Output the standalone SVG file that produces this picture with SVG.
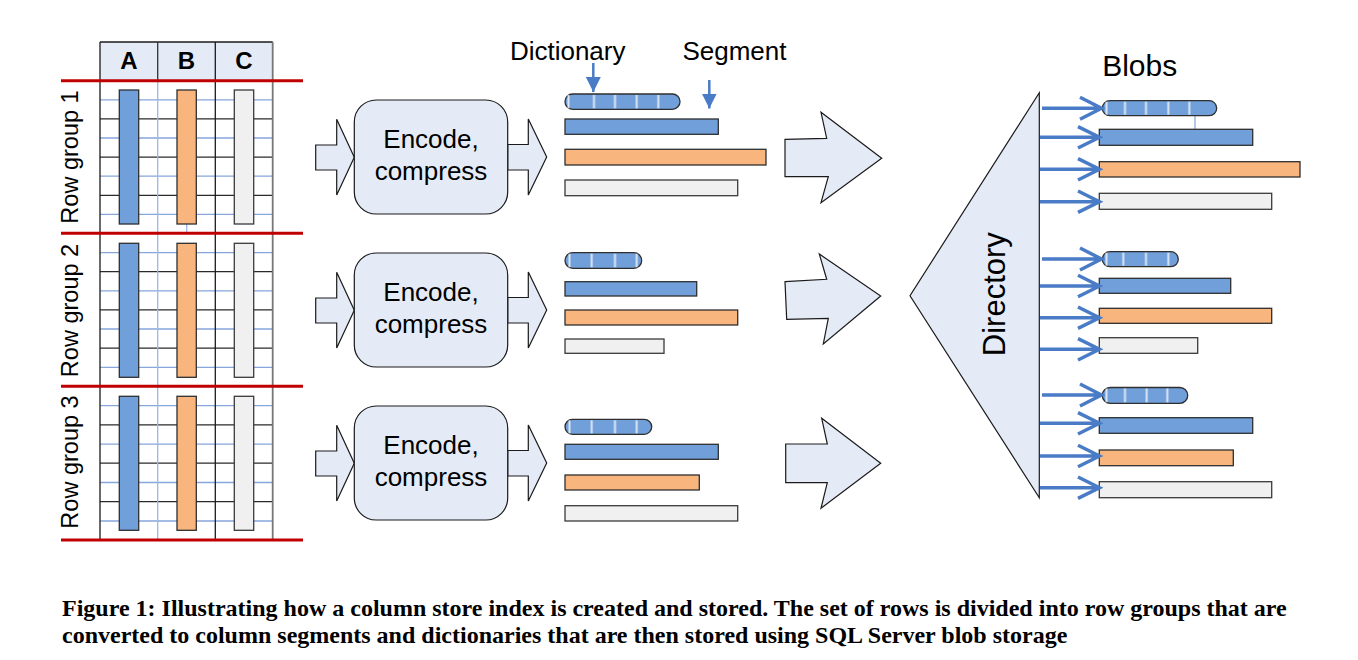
<svg xmlns="http://www.w3.org/2000/svg" width="1358" height="660" viewBox="0 0 1358 660">
<defs>
<linearGradient id="stripe" x1="0" y1="0" x2="1" y2="0">
<stop offset="0" stop-color="#ffffff" stop-opacity="0"/>
<stop offset="0.5" stop-color="#ffffff" stop-opacity="0.75"/>
<stop offset="1" stop-color="#ffffff" stop-opacity="0"/>
</linearGradient>
<marker id="tri" viewBox="0 0 10 10" refX="10" refY="5" markerWidth="15" markerHeight="17" markerUnits="userSpaceOnUse" orient="auto">
<path d="M0,0 L10,5 L0,10 Z" fill="#4a7bc6"/>
</marker>
</defs>
<style>
text{font-family:"Liberation Sans",Arial,sans-serif;fill:#000}
.hdr{font-size:24px;font-weight:bold;text-anchor:middle}
.rg{font-size:23.5px;text-anchor:middle}
.enc{font-size:26px;text-anchor:middle}
.lbl{font-size:26px;text-anchor:middle}
.cap{font-family:"Liberation Serif","Times New Roman",serif;font-size:24px;font-weight:bold}
.blue{fill:#719fd9;stroke:#2f2f2f;stroke-width:1.3}
.orng{fill:#f8b57e;stroke:#2f2f2f;stroke-width:1.3}
.gray{fill:#f0f0f0;stroke:#3a3a3a;stroke-width:1.3}
.pale{fill:#e4ebf6;stroke:#1a1a1a;stroke-width:1.2}
.red{stroke:#c00000;stroke-width:3}
.gb{stroke:#86a6dc;stroke-width:1.3}
.gk{stroke:#2a2a2a;stroke-width:1.2}
.bl{stroke:#4a7bc6;stroke-width:3.5;fill:none}
.ptr{stroke:#4a7bc6;stroke-width:2.5;fill:none}
.st{fill:url(#stripe)}
</style>
<rect width="1358" height="660" fill="#ffffff"/>

<g id="table">
<rect x="100" y="42" width="172.7" height="38.7" fill="#e4ebf6"/>
<g id="gridlines">
<line class="gb" x1="100" y1="99.8" x2="272.7" y2="99.8"/>
<line class="gk" x1="100" y1="118.9" x2="272.7" y2="118.9"/>
<line class="gb" x1="100" y1="138" x2="272.7" y2="138"/>
<line class="gk" x1="100" y1="157.1" x2="272.7" y2="157.1"/>
<line class="gb" x1="100" y1="176.2" x2="272.7" y2="176.2"/>
<line class="gk" x1="100" y1="195.3" x2="272.7" y2="195.3"/>
<line class="gb" x1="100" y1="214.4" x2="272.7" y2="214.4"/>
<line class="gb" x1="100" y1="252.6" x2="272.7" y2="252.6"/>
<line class="gk" x1="100" y1="271.7" x2="272.7" y2="271.7"/>
<line class="gb" x1="100" y1="290.8" x2="272.7" y2="290.8"/>
<line class="gk" x1="100" y1="309.9" x2="272.7" y2="309.9"/>
<line class="gb" x1="100" y1="329" x2="272.7" y2="329"/>
<line class="gk" x1="100" y1="348.1" x2="272.7" y2="348.1"/>
<line class="gb" x1="100" y1="367.3" x2="272.7" y2="367.3"/>
<line class="gb" x1="100" y1="405.7" x2="272.7" y2="405.7"/>
<line class="gk" x1="100" y1="424.9" x2="272.7" y2="424.9"/>
<line class="gb" x1="100" y1="444.1" x2="272.7" y2="444.1"/>
<line class="gk" x1="100" y1="463.2" x2="272.7" y2="463.2"/>
<line class="gb" x1="100" y1="482.5" x2="272.7" y2="482.5"/>
<line class="gk" x1="100" y1="501.7" x2="272.7" y2="501.7"/>
<line class="gb" x1="100" y1="521" x2="272.7" y2="521"/>
</g>
<line x1="100" y1="42" x2="272.7" y2="42" stroke="#1a1a1a" stroke-width="1.3"/>
<line x1="100" y1="42" x2="100" y2="540" stroke="#1a1a1a" stroke-width="1.3"/>
<line x1="157.7" y1="42" x2="157.7" y2="80.7" stroke="#333" stroke-width="1.3"/>
<line x1="157.7" y1="80.7" x2="157.7" y2="540" stroke="#9db8e3" stroke-width="1.3"/>
<line x1="215.3" y1="42" x2="215.3" y2="540" stroke="#1a1a1a" stroke-width="1.3"/>
<line x1="272.7" y1="42" x2="272.7" y2="540" stroke="#777" stroke-width="1.8"/>
<line x1="186.7" y1="224" x2="186.7" y2="233" stroke="#9db8e3" stroke-width="1.3"/>
<text class="hdr" x="128.8" y="69.3">A</text>
<text class="hdr" x="186.5" y="69.3">B</text>
<text class="hdr" x="244" y="69.3">C</text>
</g>

<g id="rowgroup1">
<rect class="blue" x="119.3" y="90" width="19.4" height="134"/>
<rect class="orng" x="177" y="90" width="19.3" height="134"/>
<rect class="gray" x="234.3" y="90" width="19.4" height="134"/>
<text class="rg" transform="translate(78.3,157) rotate(-90)">Row group 1</text>
</g>
<g id="rowgroup2">
<rect class="blue" x="119.3" y="243.3" width="19.4" height="134"/>
<rect class="orng" x="177" y="243.3" width="19.3" height="134"/>
<rect class="gray" x="234.3" y="243.3" width="19.4" height="134"/>
<text class="rg" transform="translate(78.3,310.5) rotate(-90)">Row group 2</text>
</g>
<g id="rowgroup3">
<rect class="blue" x="119.3" y="396.3" width="19.4" height="134"/>
<rect class="orng" x="177" y="396.3" width="19.3" height="134"/>
<rect class="gray" x="234.3" y="396.3" width="19.4" height="134"/>
<text class="rg" transform="translate(78.3,462) rotate(-90)">Row group 3</text>
</g>
<g id="redlines">
<line class="red" x1="61" y1="80.7" x2="303" y2="80.7"/>
<line class="red" x1="61" y1="233.3" x2="303" y2="233.3"/>
<line class="red" x1="61" y1="386.3" x2="303" y2="386.3"/>
<line class="red" x1="61" y1="540" x2="303" y2="540"/>
</g>

<g id="connectors">
<g id="enc-arrows">
<polygon class="pale" points="315.7,145 336.7,145 336.7,119.3 354.3,157.3 336.7,195 336.7,170 315.7,170"/>
<polygon class="pale" points="507.7,144.5 528.3,144.5 528.3,119 546.7,157 528.3,195 528.3,170 507.7,170"/>
<polygon class="pale" points="315.7,298 336.7,298 336.7,272.3 354.3,310.3 336.7,348 336.7,323 315.7,323"/>
<polygon class="pale" points="507.7,297.5 528.3,297.5 528.3,272 546.7,310 528.3,348 528.3,323 507.7,323"/>
<polygon class="pale" points="315.7,451 336.7,451 336.7,425.3 354.3,463.3 336.7,501 336.7,476 315.7,476"/>
<polygon class="pale" points="507.7,450.5 528.3,450.5 528.3,425 546.7,463 528.3,501 528.3,476 507.7,476"/>
</g>
<g id="big-arrows">
<polygon class="pale" points="785,139.3 826.7,138.3 821,112.3 881.7,158.3 821,202.7 828.3,176.7 785,176.7"/>
<polygon class="pale" points="785,281.7 826.7,279.3 819.3,254 880.7,296 823.3,344 828.3,318.3 786.7,319.3"/>
<polygon class="pale" points="785.7,444 827.3,444 821.7,418.3 880.7,463.3 821,508.3 827.3,482.7 785.7,482.7"/>
</g>
<g id="pointers">
<line class="ptr" x1="593.3" y1="63" x2="593.3" y2="92" marker-end="url(#tri)"/>
<line class="ptr" x1="709.3" y1="80" x2="709.3" y2="108.5" marker-end="url(#tri)"/>
</g>
</g>

<g id="encode1">
<rect class="pale" x="354.3" y="100" width="153.4" height="114" rx="22"/>
<text class="enc" x="431" y="148.3">Encode,</text>
<text class="enc" x="431" y="180">compress</text>
</g>
<g id="encode2">
<rect class="pale" x="354.3" y="253" width="153.4" height="114" rx="22"/>
<text class="enc" x="431" y="301.3">Encode,</text>
<text class="enc" x="431" y="333">compress</text>
</g>
<g id="encode3">
<rect class="pale" x="354.3" y="406" width="153.4" height="114" rx="22"/>
<text class="enc" x="431" y="454.3">Encode,</text>
<text class="enc" x="431" y="486">compress</text>
</g>

<g id="labels">
<text class="lbl" x="567.7" y="60">Dictionary</text>
<text class="lbl" x="734.5" y="60">Segment</text>
</g>

<g id="segments1">
<rect class="blue" x="565" y="94" width="115" height="15.3" rx="7.6"/>
<rect class="st" x="566.5" y="95" width="4" height="13.3"/>
<rect class="st" x="592" y="95" width="4" height="13.3"/>
<rect class="st" x="613" y="95" width="4" height="13.3"/>
<rect class="st" x="634.7" y="95" width="4" height="13.3"/>
<rect class="st" x="656.3" y="95" width="4" height="13.3"/>
<rect class="blue" x="565" y="119" width="153.3" height="15.3"/>
<rect class="orng" x="565" y="149.3" width="201" height="15.7"/>
<rect class="gray" x="565" y="180" width="172.7" height="15.7"/>
</g>
<g id="segments2">
<rect class="blue" x="565" y="252.7" width="76.7" height="15.6" rx="7.8"/>
<rect class="st" x="567.5" y="253.7" width="4" height="13.6"/>
<rect class="st" x="589.7" y="253.7" width="4" height="13.6"/>
<rect class="st" x="613" y="253.7" width="4" height="13.6"/>
<rect class="st" x="634.7" y="253.7" width="4" height="13.6"/>
<rect class="blue" x="565" y="281.7" width="131.7" height="14.3"/>
<rect class="orng" x="565" y="310" width="172.7" height="15"/>
<rect class="gray" x="565" y="339" width="99" height="14.3"/>
</g>
<g id="segments3">
<rect class="blue" x="565" y="419.3" width="86.7" height="15" rx="7.5"/>
<rect class="st" x="567.5" y="420.3" width="4" height="13"/>
<rect class="st" x="589.7" y="420.3" width="4" height="13"/>
<rect class="st" x="613" y="420.3" width="4" height="13"/>
<rect class="st" x="634.7" y="420.3" width="4" height="13"/>
<rect class="blue" x="565" y="444.3" width="153.3" height="15"/>
<rect class="orng" x="565" y="475" width="134.3" height="15"/>
<rect class="gray" x="565" y="505.7" width="172.7" height="15.3"/>
</g>

<g id="directory">
<polygon class="pale" points="1039.3,92.7 1039.3,497.7 910,295.7"/>
<text transform="translate(1005,294.2) rotate(-90)" style="font-size:31px;text-anchor:middle">Directory</text>
</g>

<g id="blobs">
<text x="1139.7" y="75.7" style="font-size:30px;text-anchor:middle">Blobs</text>
<g id="blobgroup1">
<line x1="1195" y1="116" x2="1195" y2="129.3" stroke="#8eaadb" stroke-width="1.3"/>
<rect class="blue" x="1102.3" y="100.7" width="114.4" height="15" rx="7.5"/>
<rect class="st" x="1104.5" y="101.7" width="4" height="13"/>
<rect class="st" x="1123" y="101.7" width="4" height="13"/>
<rect class="st" x="1144" y="101.7" width="4" height="13"/>
<rect class="st" x="1166.3" y="101.7" width="4" height="13"/>
<rect class="st" x="1187.3" y="101.7" width="4" height="13"/>
<rect class="blue" x="1099.3" y="129.3" width="153.4" height="16"/>
<rect class="orng" x="1099.3" y="161.7" width="200.7" height="15.3"/>
<rect class="gray" x="1099.3" y="193.3" width="172.4" height="16"/>
</g>
<g id="blobgroup2">
<rect class="blue" x="1102.3" y="251.7" width="76" height="15" rx="7.5"/>
<rect class="st" x="1104.5" y="252.7" width="4" height="13"/>
<rect class="st" x="1121.3" y="252.7" width="4" height="13"/>
<rect class="st" x="1144" y="252.7" width="4" height="13"/>
<rect class="st" x="1166.3" y="252.7" width="4" height="13"/>
<rect class="blue" x="1099.3" y="278.3" width="131.4" height="15"/>
<rect class="orng" x="1099.3" y="308.3" width="172.4" height="15"/>
<rect class="gray" x="1099.3" y="337.7" width="98.4" height="15.6"/>
</g>
<g id="blobgroup3">
<rect class="blue" x="1102.3" y="387.5" width="85.4" height="15.8" rx="7.9"/>
<rect class="st" x="1104.5" y="388.5" width="4" height="13.8"/>
<rect class="st" x="1123" y="388.5" width="4" height="13.8"/>
<rect class="st" x="1144.7" y="388.5" width="4" height="13.8"/>
<rect class="st" x="1165.3" y="388.5" width="4" height="13.8"/>
<rect class="blue" x="1099.3" y="417.7" width="153.4" height="15.6"/>
<rect class="orng" x="1099.3" y="450" width="134" height="15.7"/>
<rect class="gray" x="1099.3" y="481.7" width="172.4" height="16"/>
</g>
</g>

<g id="blob-arrows">
<path class="bl" d="M1042,108.3 H1101.5 M1080,97.3 L1101.5,108.3 L1080,119.3"/>
<path class="bl" d="M1040,137.3 H1099.5 M1078,126.6 L1099.5,137.3 L1078,148"/>
<path class="bl" d="M1040,169.3 H1099.5 M1078,158.6 L1099.5,169.3 L1078,180"/>
<path class="bl" d="M1040,201.7 H1099.5 M1078,191 L1099.5,201.7 L1078,212.4"/>
<path class="bl" d="M1042,259 H1101.5 M1080,248 L1101.5,259 L1080,270"/>
<path class="bl" d="M1040,286 H1099.5 M1078,275.3 L1099.5,286 L1078,296.7"/>
<path class="bl" d="M1040,317.7 H1099.5 M1078,307 L1099.5,317.7 L1078,328.4"/>
<path class="bl" d="M1040,349.3 H1099.5 M1078,338.6 L1099.5,349.3 L1078,360"/>
<path class="bl" d="M1042,395 H1101.5 M1080,384 L1101.5,395 L1080,406"/>
<path class="bl" d="M1040,423.3 H1099.5 M1078,412.6 L1099.5,423.3 L1078,434"/>
<path class="bl" d="M1040,456 H1099.5 M1078,445.3 L1099.5,456 L1078,466.7"/>
<path class="bl" d="M1040,487.7 H1099.5 M1078,477 L1099.5,487.7 L1078,498.4"/>
</g>

<g id="caption">
<text class="cap" x="62" y="616">Figure 1: Illustrating how a column store index is created and stored. The set of rows is divided into row groups that are</text>
<text class="cap" x="62" y="643">converted to column segments and dictionaries that are then stored using SQL Server blob storage</text>
</g>
</svg>
